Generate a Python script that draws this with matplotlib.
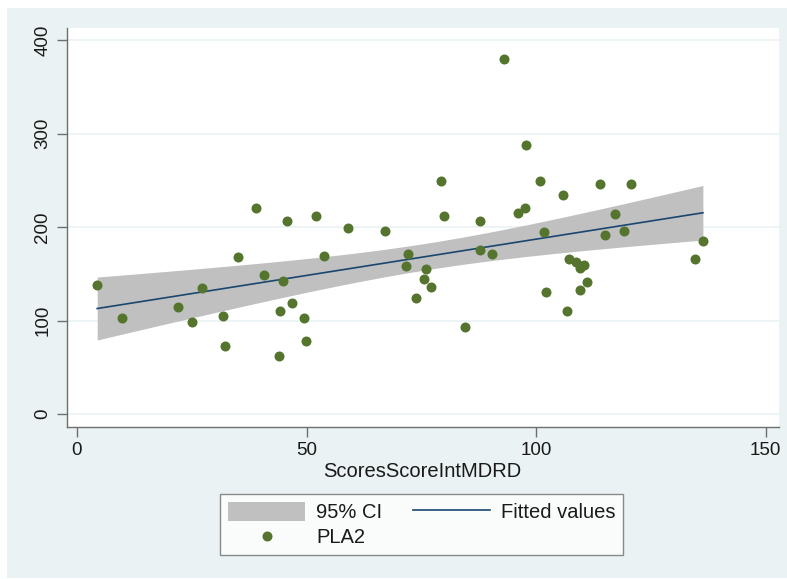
import matplotlib

matplotlib.use("Agg")
import matplotlib.pyplot as plt
import numpy as np
from matplotlib.patches import Rectangle

plt.rcParams["font.family"] = ["Liberation Sans", "DejaVu Sans"]

# scatter points (ScoresScoreIntMDRD, PLA2)
mdrd = [4.4, 9.9, 22.0, 25.0, 27.3, 31.8, 32.3, 35.0, 39.0, 40.8,
        44.0, 44.3, 44.8, 45.7, 46.8, 49.4, 49.8, 52.0, 53.8, 59.1,
        67.0, 71.6, 72.0, 73.9, 75.5, 75.9, 77.0, 79.2, 79.9, 84.4,
        87.8, 87.8, 90.4, 93.0, 96.1, 97.5, 97.7, 100.9, 101.8, 102.2,
        105.9, 106.7, 107.1, 108.6, 109.5, 110.5, 109.5, 111.0, 114.0, 115.0,
        117.1, 119.2, 120.6, 134.5, 136.3]
pla2 = [138.4, 102.8, 114.9, 98.1, 134.9, 104.9, 72.4, 168.1, 220.6, 149.1,
        62.4, 110.3, 142.0, 207.0, 118.8, 102.4, 78.5, 211.6, 168.7, 198.7,
        195.5, 158.0, 171.6, 124.0, 144.7, 155.6, 136.0, 249.0, 211.6, 92.7,
        207.0, 175.2, 171.6, 379.7, 214.8, 220.6, 288.3, 249.0, 194.4, 130.2,
        234.0, 109.9, 166.3, 162.3, 156.3, 159.9, 133.1, 141.3, 246.3, 191.6,
        214.1, 196.3, 246.3, 166.3, 184.8]

x_ticks = [0, 50, 100, 150]
y_ticks = [0, 100, 200, 300, 400]

# linear fit with 95% CI of the mean (like Stata's lfitci)
x = np.array(mdrd)
y = np.array(pla2)
n = len(x)
slope, icept = np.polyfit(x, y, 1)
resid = y - (icept + slope * x)
s = np.sqrt((resid ** 2).sum() / (n - 2))
sxx = ((x - x.mean()) ** 2).sum()
t975 = 2.006  # t quantile, df = 53
xg = np.linspace(x.min(), x.max(), 100)
yg = icept + slope * xg
half = t975 * s * np.sqrt(1 / n + (xg - x.mean()) ** 2 / sxx)

BG = "#eaf2f3"
TXT = "#1a1a1a"
fig = plt.figure(figsize=(7.87, 5.79), dpi=100, facecolor="white")
fig.patches.append(Rectangle((7 / 787, 1 - 578 / 579), 780 / 787, 570 / 579,
                             transform=fig.transFigure, facecolor=BG,
                             edgecolor="none", zorder=-10))

ax = fig.add_axes([0.0847, 0.263, 0.9047, 0.6892])
ax.set_facecolor("white")
ci = ax.fill_between(xg, yg - half, yg + half, color="#c0c0c0", lw=0, zorder=2)
fit, = ax.plot(xg, yg, color="#1a476f", lw=1.2, zorder=3)
pts = ax.scatter(x, y, s=52, color="#55752f", lw=0, zorder=4)

ax.set_xlim(-2.25, 152.8)
ax.set_ylim(-13.6, 413.6)
ax.set_xticks(x_ticks)
ax.set_yticks(y_ticks)
ax.grid(axis="y", color=BG, lw=1.2, zorder=0)
ax.set_axisbelow(True)
for side in ("top", "right"):
    ax.spines[side].set_visible(False)
for side in ("left", "bottom"):
    ax.spines[side].set_color("#6e6e6e")
    ax.spines[side].set_linewidth(1.0)
ax.tick_params(colors="#6e6e6e", length=7, width=1.0, labelsize=13.5,
               labelcolor=TXT, pad=4)
plt.setp(ax.get_yticklabels(), rotation=90, va="center")
ax.set_xlabel("ScoresScoreIntMDRD", fontsize=14.5, color=TXT, labelpad=2)

leg = fig.legend([ci, pts, fit], ["95% CI", "PLA2", "Fitted values"],
                 ncol=2, loc="center", bbox_to_anchor=(0.536, 0.094),
                 fontsize=14.5, frameon=True, fancybox=False,
                 handlelength=3.8, handleheight=1.05, handletextpad=0.55,
                 columnspacing=1.55, borderpad=0.4, labelspacing=0.25,
                 scatterpoints=1, borderaxespad=0)
for t in leg.get_texts():
    t.set_color(TXT)
leg.get_frame().set_edgecolor("#6e6e6e")
leg.get_frame().set_linewidth(1.0)

fig.savefig("out.png", dpi=100, facecolor="white")
